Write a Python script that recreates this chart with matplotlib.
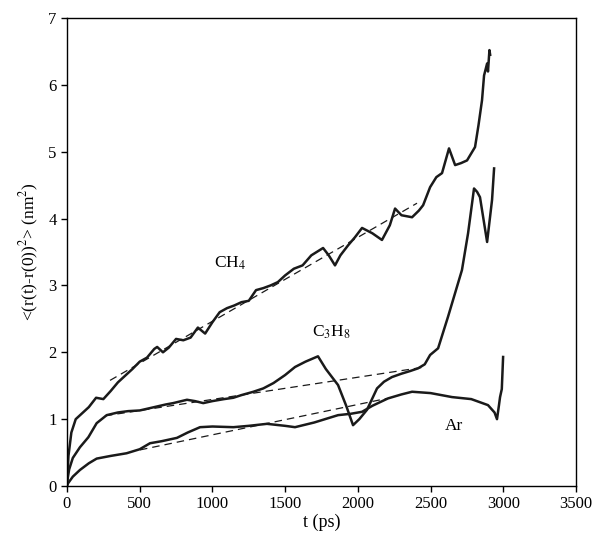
import matplotlib.pyplot as plt

plt.rcParams['font.family'] = ['Liberation Serif', 'DejaVu Serif']
plt.rcParams['mathtext.fontset'] = 'stix'

# CH4 curve
t_ch4 = [0, 10, 30, 60, 100, 150, 200, 250, 300, 350, 400, 450, 500, 550, 600, 620, 660,
         700, 750, 800, 850, 900, 950, 1000, 1050, 1100, 1150, 1200, 1250, 1300, 1350,
         1400, 1450, 1500, 1560, 1620, 1680, 1761, 1800, 1843, 1880, 1933, 1980, 2029,
         2100, 2166, 2220, 2256, 2300, 2373, 2420, 2449, 2497, 2540, 2579, 2627, 2669,
         2710, 2751, 2806, 2830, 2854, 2868, 2889, 2895, 2905, 2910]
v_ch4 = [0.0, 0.45, 0.8, 1.0, 1.08, 1.18, 1.32, 1.3, 1.42, 1.55, 1.65, 1.75, 1.86, 1.92,
         2.05, 2.08, 2.0, 2.07, 2.2, 2.18, 2.22, 2.37, 2.28, 2.45, 2.6, 2.66, 2.7, 2.75,
         2.77, 2.93, 2.96, 3.0, 3.05, 3.15, 3.25, 3.3, 3.45, 3.56, 3.45, 3.3, 3.45, 3.6,
         3.72, 3.86, 3.78, 3.68, 3.9, 4.15, 4.05, 4.02, 4.12, 4.2, 4.47, 4.62, 4.68, 5.05,
         4.8, 4.83, 4.87, 5.07, 5.4, 5.77, 6.14, 6.32, 6.2, 6.52, 6.45]

# C3H8 curve
t_c3h8 = [0, 15, 40, 89, 147, 204, 273, 350, 420, 500, 600, 680, 730, 825, 880, 937,
          1000, 1080, 1144, 1200, 1282, 1350, 1420, 1500, 1568, 1640, 1726, 1780, 1864,
          1920, 1967, 2010, 2063, 2132, 2180, 2235, 2300, 2360, 2414, 2460, 2497, 2552,
          2620, 2716, 2758, 2799, 2820, 2840, 2889, 2923, 2937]
v_c3h8 = [0.05, 0.25, 0.42, 0.58, 0.73, 0.94, 1.06, 1.1, 1.12, 1.13, 1.18, 1.22, 1.24,
          1.29, 1.27, 1.24, 1.27, 1.3, 1.32, 1.36, 1.41, 1.46, 1.54, 1.66, 1.78, 1.86,
          1.94, 1.75, 1.51, 1.2, 0.91, 1.0, 1.14, 1.46, 1.56, 1.63, 1.68, 1.72, 1.76,
          1.82, 1.96, 2.06, 2.53, 3.23, 3.78, 4.45, 4.4, 4.32, 3.65, 4.28, 4.75]

# Ar curve
t_ar = [0, 7, 40, 89, 150, 204, 300, 410, 500, 571, 650, 756, 830, 915, 1000, 1144,
        1250, 1375, 1500, 1568, 1700, 1864, 1950, 2029, 2100, 2207, 2300, 2373, 2500,
        2648, 2780, 2895, 2940, 2957, 2970, 2978, 2990, 2999]
v_ar = [0.0, 0.04, 0.14, 0.24, 0.34, 0.41, 0.45, 0.49, 0.55, 0.64, 0.67, 0.72, 0.8,
        0.88, 0.89, 0.88, 0.9, 0.93, 0.9, 0.88, 0.95, 1.06, 1.08, 1.11, 1.2, 1.31, 1.37,
        1.41, 1.39, 1.33, 1.3, 1.21, 1.1, 1.0, 1.2, 1.33, 1.45, 1.93]

# linear fits (dashed)
fit_ch4_t = [296, 2407]
fit_ch4_v = [1.58, 4.23]
fit_c3h8_t = [261, 2462]
fit_c3h8_v = [1.05, 1.78]
fit_ar_t = [502, 2200]
fit_ar_v = [0.54, 1.31]

fig = plt.figure(figsize=(5.95, 5.39), dpi=100)
ax = fig.add_axes([0.1126, 0.0983, 0.8554, 0.8683])

for t, v in [(t_ch4, v_ch4), (t_c3h8, v_c3h8), (t_ar, v_ar)]:
    ax.plot(t, v, color='#1a1a1a', lw=1.8)
for t, v in [(fit_ch4_t, fit_ch4_v), (fit_c3h8_t, fit_c3h8_v), (fit_ar_t, fit_ar_v)]:
    ax.plot(t, v, color='#1a1a1a', lw=0.9, ls=(0, (6, 4)))

ax.text(1120, 3.33, 'CH$_4$', fontsize=12.5, ha='center', va='center')
ax.text(1820, 2.3, 'C$_3$H$_8$', fontsize=12.5, ha='center', va='center')
ax.text(2660, 0.9, 'Ar', fontsize=12.5, ha='center', va='center')

ax.set_xlim(0, 3500)
ax.set_ylim(0, 7)
ax.set_xticks(range(0, 3501, 500))
ax.set_yticks(range(0, 8))
ax.tick_params(direction='out', labelsize=12, length=4, width=1)
ax.set_xlabel('t (ps)', fontsize=13, labelpad=1)
ax.set_ylabel('<(r(t)-r(0))$^2$> (nm$^2$)', fontsize=12.5, labelpad=5)
for s in ax.spines.values():
    s.set_linewidth(1)

plt.savefig('out.png', dpi=100)
